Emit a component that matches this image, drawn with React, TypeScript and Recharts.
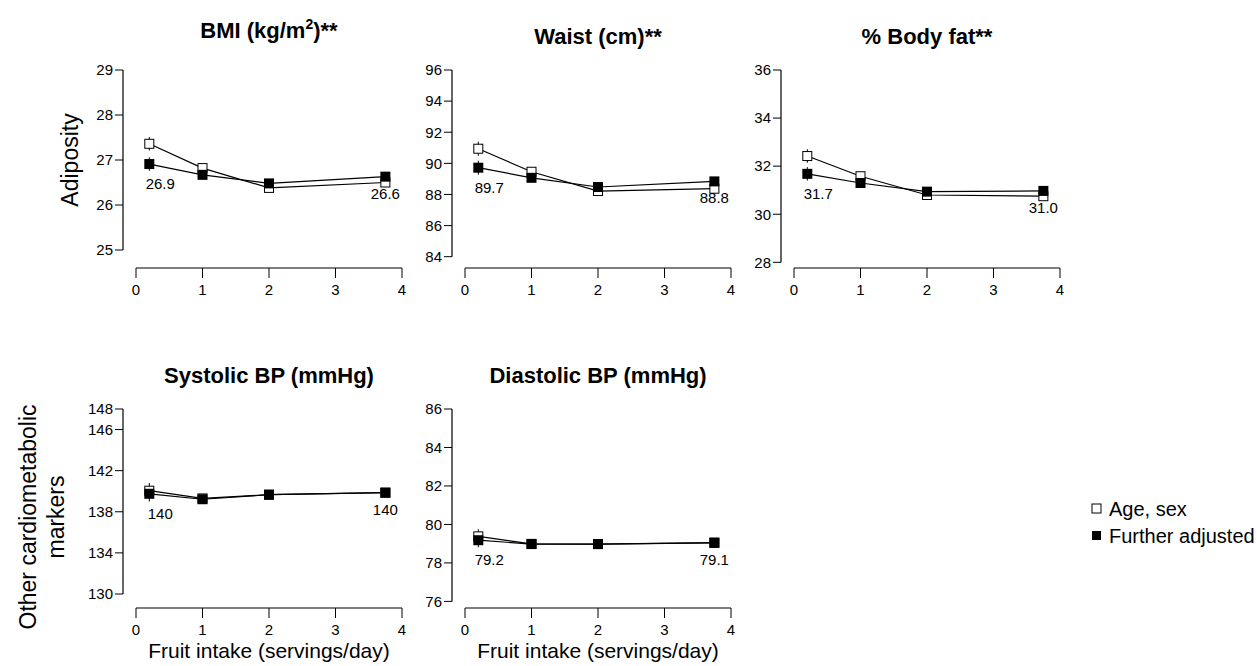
import React from "react";
import { LineChart, Line, XAxis, YAxis, ReferenceLine, ErrorBar, LabelList } from "recharts";

// fruit intake quartile medians (servings/day)
const intake = [0.2, 1, 2, 3.75];

const bmiAgeSex = [27.36, 26.82, 26.38, 26.5];
const bmiAdjusted = [26.91, 26.67, 26.48, 26.63];
const bmiErr = [0.15, 0.05, 0.05, 0.06];

const waistAgeSex = [90.94, 89.46, 88.22, 88.37];
const waistAdjusted = [89.72, 89.07, 88.48, 88.84];
const waistErr = [0.45, 0.15, 0.15, 0.18];

const fatAgeSex = [32.42, 31.58, 30.8, 30.75];
const fatAdjusted = [31.68, 31.3, 30.94, 30.97];
const fatErr = [0.28, 0.1, 0.1, 0.12];

const sbpAgeSex = [140.05, 139.3, 139.66, 139.86];
const sbpAdjusted = [139.75, 139.22, 139.66, 139.86];
const sbpErr = [0.75, 0.3, 0.3, 0.35];

const dbpAgeSex = [79.38, 78.99, 78.98, 79.04];
const dbpAdjusted = [79.18, 78.98, 78.98, 79.06];
const dbpErr = [0.37, 0.12, 0.12, 0.14];

const xTicks = [0, 1, 2, 3, 4];
const bmiTicks = [25, 26, 27, 28, 29];
const waistTicks = [84, 86, 88, 90, 92, 94, 96];
const fatTicks = [28, 30, 32, 34, 36];
const sbpTicks = [130, 134, 138, 142, 146, 148];
const dbpTicks = [76, 78, 80, 82, 84, 86];

const FONT = '"Liberation Sans", Arial, Helvetica, sans-serif';

type Geo = { yAxisX: number; x0: number; x4: number; top: number; yLowPx: number; xAxisY: number };

const rows = (a: number[], b: number[], e: number[]) =>
  intake.map((x, i) => ({ x, a: a[i], b: b[i], e: e[i] }));

const OpenSq = (p: any) => (
  <rect key={`o${p.index}`} x={p.cx - 4.5} y={p.cy - 4.5} width={9} height={9} fill="#fff" stroke="#000" strokeWidth={1} />
);
const FilledSq = (p: any) => (
  <rect key={`f${p.index}`} x={p.cx - 5} y={p.cy - 5} width={10} height={10} fill="#000" />
);

function Panel({ geo, ticks, ageSex, adjusted, err, decimals }: {
  geo: Geo; ticks: number[]; ageSex: number[]; adjusted: number[]; err: number[]; decimals: number;
}) {
  const yLow = ticks[0];
  const yHigh = ticks[ticks.length - 1];
  const unitX = (geo.x4 - geo.x0) / 4;
  const xMin = -(geo.x0 - geo.yAxisX) / unitX;
  const unitY = (geo.yLowPx - geo.top) / (yHigh - yLow);
  const yMin = yLow - (geo.xAxisY - geo.yLowPx) / unitY;
  const data = rows(ageSex, adjusted, err);
  const last = data.length - 1;

  const label = (p: any) => {
    const { x, y, index, value } = p;
    if (index !== 0 && index !== last) return null;
    const dx = index === 0 ? 11 : 0;
    const dy = index === 0 ? 20 : 17;
    return (
      <text key={`l${index}`} x={x + dx} y={y + dy + 5} textAnchor="middle" fontSize={15} fontFamily={FONT} fill="#000">
        {Number(value).toFixed(decimals)}
      </text>
    );
  };

  const left = 70, right = 20, topM = 10, bottom = 50;
  return (
    <div style={{ position: "absolute", left: geo.yAxisX - left, top: geo.top - topM }}>
      <LineChart
        width={geo.x4 - geo.yAxisX + left + right}
        height={geo.xAxisY - geo.top + topM + bottom}
        data={data}
        margin={{ top: topM, right, bottom: 0, left: 0 }}
      >
        <XAxis
          type="number" dataKey="x" domain={[xMin, 4]} ticks={xTicks} allowDataOverflow
          axisLine={false} tickLine={{ stroke: "#000" }} tickSize={10} tickMargin={6} height={bottom}
          tick={{ fill: "#000", fontSize: 15, fontFamily: FONT }} interval={0}
        />
        <YAxis
          type="number" domain={[yMin, yHigh]} ticks={ticks} allowDataOverflow
          axisLine={false} tickLine={{ stroke: "#000" }} tickSize={8} tickMargin={2} width={left}
          tick={{ fill: "#000", fontSize: 15, fontFamily: FONT }} interval={0}
        />
        <ReferenceLine segment={[{ x: xMin, y: yLow }, { x: xMin, y: yHigh }]} stroke="#000" strokeWidth={1.2} ifOverflow="visible" />
        <ReferenceLine segment={[{ x: 0, y: yMin }, { x: 4, y: yMin }]} stroke="#000" strokeWidth={1.2} ifOverflow="visible" />
        <Line dataKey="a" stroke="#000" strokeWidth={1.2} dot={OpenSq} activeDot={false} isAnimationActive={false}>
          <ErrorBar dataKey="e" direction="y" width={0} stroke="#000" strokeWidth={1} />
        </Line>
        <Line dataKey="b" stroke="#000" strokeWidth={1.2} dot={FilledSq} activeDot={false} isAnimationActive={false}>
          <ErrorBar dataKey="e" direction="y" width={0} stroke="#000" strokeWidth={1} />
          <LabelList dataKey="b" content={label} />
        </Line>
      </LineChart>
    </div>
  );
}

export default function App() {
  const top1 = { top: 70, xAxisY: 268 };
  const top2 = { top: 409.3, xAxisY: 608.3 };
  const col1 = { yAxisX: 123, x0: 136, x4: 402 };
  const col2 = { yAxisX: 452, x0: 465, x4: 731 };
  const col3 = { yAxisX: 781, x0: 794, x4: 1060 };
  const txt = { fontFamily: FONT, fill: "#000" };
  return (
    <div style={{ position: "absolute", left: 0, top: 0, width: 1257, height: 666, background: "#fff", overflow: "hidden" }}>
      <Panel geo={{ ...col1, ...top1, yLowPx: 250 }} ticks={bmiTicks} ageSex={bmiAgeSex} adjusted={bmiAdjusted} err={bmiErr} decimals={1} />
      <Panel geo={{ ...col2, ...top1, yLowPx: 256.7 }} ticks={waistTicks} ageSex={waistAgeSex} adjusted={waistAdjusted} err={waistErr} decimals={1} />
      <Panel geo={{ ...col3, ...top1, yLowPx: 262.3 }} ticks={fatTicks} ageSex={fatAgeSex} adjusted={fatAdjusted} err={fatErr} decimals={1} />
      <Panel geo={{ ...col1, ...top2, yLowPx: 594.3 }} ticks={sbpTicks} ageSex={sbpAgeSex} adjusted={sbpAdjusted} err={sbpErr} decimals={0} />
      <Panel geo={{ ...col2, ...top2, yLowPx: 601.7 }} ticks={dbpTicks} ageSex={dbpAgeSex} adjusted={dbpAdjusted} err={dbpErr} decimals={1} />

      <svg width={1257} height={666} style={{ position: "absolute", left: 0, top: 0, pointerEvents: "none" }}>
        <g {...txt} fontWeight="bold" fontSize={22} textAnchor="middle">
          <text x={269} y={38}>
            BMI (kg/m<tspan fontSize={14} dy={-9}>2</tspan><tspan dy={9}>)**</tspan>
          </text>
          <text x={598} y={44}>Waist (cm)**</text>
          <text x={927} y={44}>% Body fat**</text>
          <text x={269} y={383}>Systolic BP (mmHg)</text>
          <text x={598} y={383}>Diastolic BP (mmHg)</text>
        </g>
        <g {...txt} fontSize={21} textAnchor="middle">
          <text x={269} y={658}>Fruit intake (servings/day)</text>
          <text x={598} y={658}>Fruit intake (servings/day)</text>
        </g>
        <g {...txt} fontSize={23} textAnchor="middle">
          <text transform="translate(78,160) rotate(-90)">Adiposity</text>
          <text transform="translate(36,517) rotate(-90)">Other cardiometabolic</text>
          <text transform="translate(64,517) rotate(-90)">markers</text>
        </g>
        <g {...txt} fontSize={20}>
          <rect x={1092} y={504} width={9} height={9} fill="#fff" stroke="#000" />
          <text x={1109} y={516}>Age, sex</text>
          <rect x={1092} y={531} width={9} height={9} fill="#000" />
          <text x={1109} y={543}>Further adjusted</text>
        </g>
      </svg>
    </div>
  );
}
